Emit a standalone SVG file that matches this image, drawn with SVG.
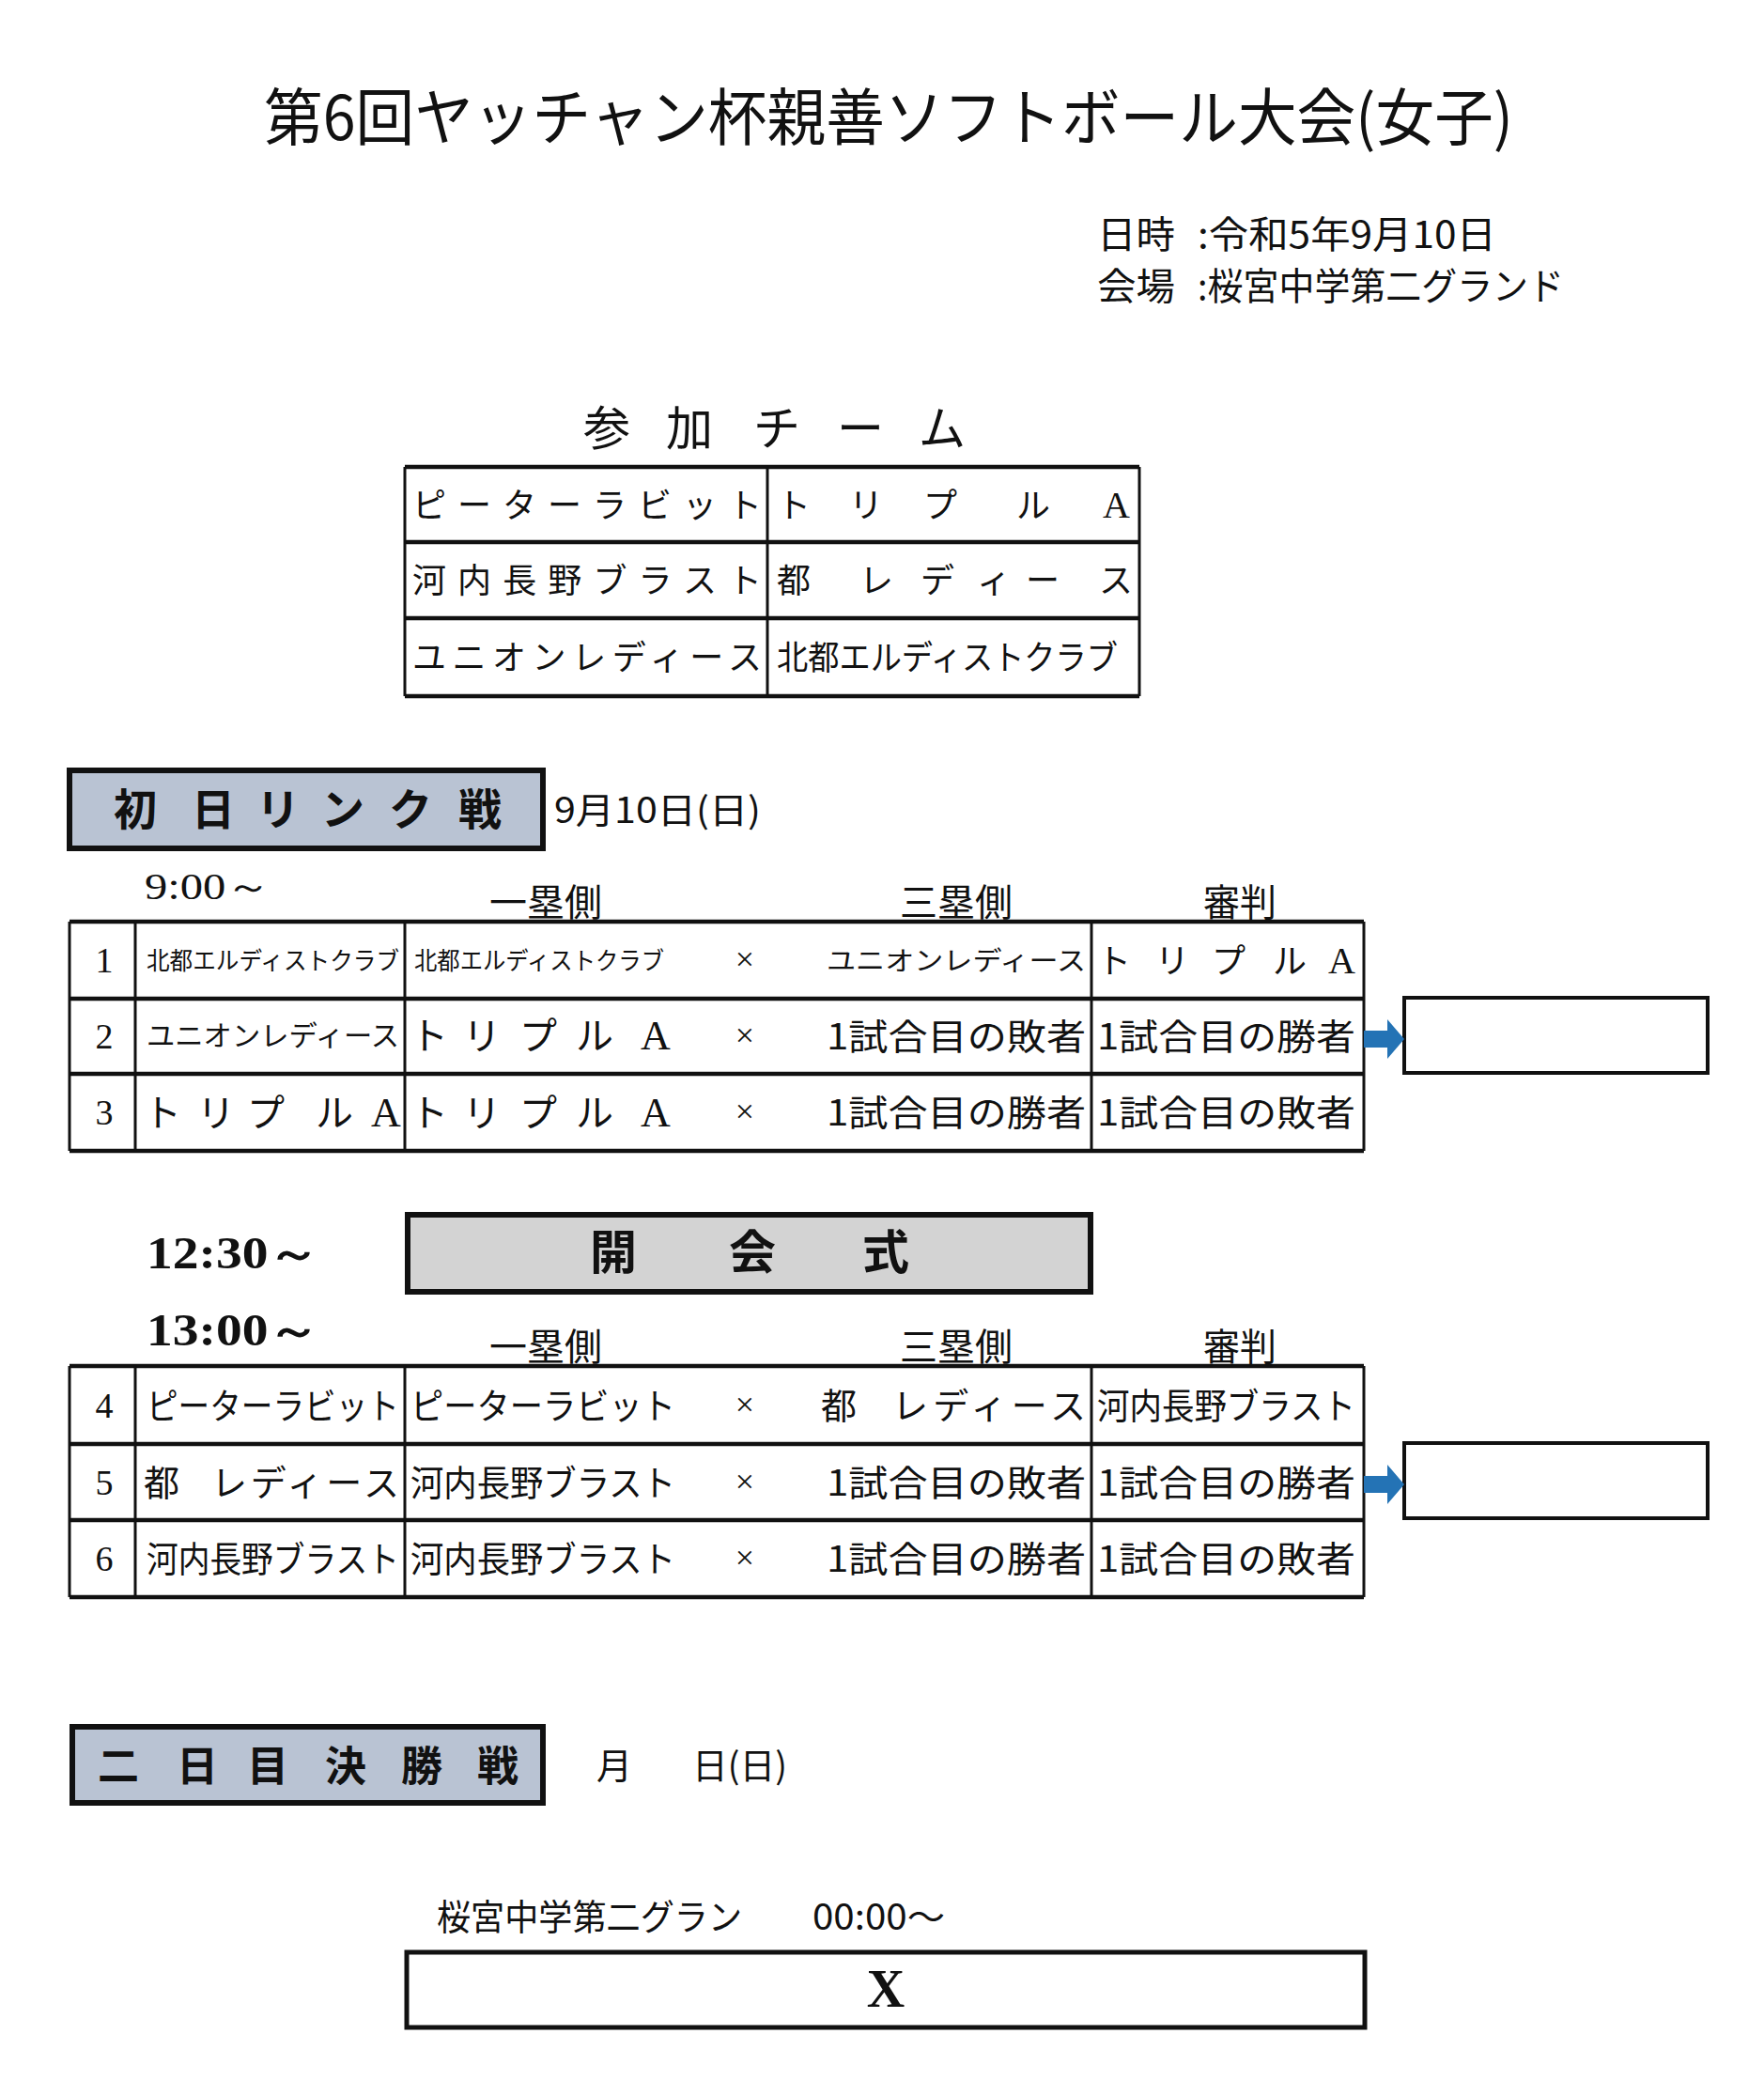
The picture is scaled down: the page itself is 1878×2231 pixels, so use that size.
<svg xmlns="http://www.w3.org/2000/svg" width="1878" height="2231" viewBox="0 0 1878 2231">
<defs>
<style>
.jp{font-family:"Noto Sans CJK JP","Noto Sans CJK SC",sans-serif;fill:#111}
.sf{font-family:"Liberation Serif",serif;fill:#111}
.h{stroke:#111;stroke-width:4.5;fill:none}
.v{stroke:#111;stroke-width:3;fill:none}
.bx{stroke:#111;stroke-width:4;fill:#fff}
.c36{font-size:36px}
.c38{font-size:38px}
.c26{font-size:26px}
.num{font-size:38px;text-anchor:middle}
.x{font-size:36px;text-anchor:middle}
.arrow{fill:#2473b5}
</style>
</defs>
<rect width="1878" height="2231" fill="#fff"/>

<g id="title">
<text class="jp" x="281" y="149" font-size="66" textLength="1330" lengthAdjust="spacingAndGlyphs">第6回ヤッチャン杯親善ソフトボール大会(女子)</text>
</g>

<g id="info">
<text class="jp" x="1168" y="264" font-size="40" textLength="83" lengthAdjust="spacingAndGlyphs">日時</text>
<text class="jp" x="1275" y="264" font-size="40" textLength="318" lengthAdjust="spacingAndGlyphs">:令和5年9月10日</text>
<text class="jp" x="1168" y="319" font-size="40" textLength="83" lengthAdjust="spacingAndGlyphs">会場</text>
<text class="jp" x="1275" y="319" font-size="40" textLength="390" lengthAdjust="spacingAndGlyphs">:桜宮中学第二グランド</text>
</g>

<g id="teams">
<text class="jp" x="621 709 802 891 978" y="474" font-size="50">参加チーム</text>
<line class="h" x1="431" y1="497" x2="1213" y2="497"/>
<line class="h" x1="431" y1="577" x2="1213" y2="577"/>
<line class="h" x1="431" y1="658" x2="1213" y2="658"/>
<line class="h" x1="431" y1="741" x2="1213" y2="741"/>
<line class="v" x1="431" y1="497" x2="431" y2="741"/>
<line class="v" x1="817" y1="497" x2="817" y2="741"/>
<line class="v" x1="1213" y1="497" x2="1213" y2="741"/>
<text class="jp c36" x="439" y="551" textLength="372" lengthAdjust="spacing">ピーターラビット</text>
<text class="jp c36" x="827 904 983 1082" y="551">トリプル</text>
<text class="sf" x="1174" y="551" font-size="40">A</text>
<text class="jp c36" x="439" y="631" textLength="372" lengthAdjust="spacing">河内長野ブラスト</text>
<text class="jp c36" x="827 915 980 1040 1092 1170" y="631">都レディース</text>
<text class="jp c36" x="439" y="713" textLength="372" lengthAdjust="spacing">ユニオンレディース</text>
<text class="jp c36" x="827" y="713" textLength="363" lengthAdjust="spacingAndGlyphs">北都エルディストクラブ</text>
</g>

<g id="day1-header">
<rect x="74" y="820" width="504" height="83" fill="#b9c3d3" stroke="#111" stroke-width="6"/>
<text class="jp" x="121 204 273 342 414 488" y="878" font-size="46" font-weight="bold">初日リンク戦</text>
<text class="jp" x="590" y="876" font-size="38" textLength="220" lengthAdjust="spacingAndGlyphs">9月10日(日)</text>
</g>

<g id="day1-table">
<text class="sf" x="154" y="957" font-size="40" textLength="135" lengthAdjust="spacingAndGlyphs">9:00～</text>
<text class="jp" x="521" y="975" font-size="40" textLength="120" lengthAdjust="spacingAndGlyphs">一塁側</text>
<text class="jp" x="958" y="975" font-size="40" textLength="120" lengthAdjust="spacingAndGlyphs">三塁側</text>
<text class="jp" x="1281" y="975" font-size="40" textLength="78" lengthAdjust="spacingAndGlyphs">審判</text>
<line class="h" x1="74" y1="981" x2="1452" y2="981"/>
<line class="h" x1="74" y1="1063" x2="1452" y2="1063"/>
<line class="h" x1="74" y1="1143" x2="1452" y2="1143"/>
<line class="h" x1="74" y1="1225" x2="1452" y2="1225"/>
<line class="v" x1="74" y1="981" x2="74" y2="1225"/>
<line class="v" x1="144" y1="981" x2="144" y2="1225"/>
<line class="v" x1="431" y1="981" x2="431" y2="1225"/>
<line class="v" x1="1162" y1="981" x2="1162" y2="1225"/>
<line class="v" x1="1452" y1="981" x2="1452" y2="1225"/>

<text class="sf num" x="111" y="1035">1</text>
<text class="jp c26" x="156" y="1032" textLength="269" lengthAdjust="spacingAndGlyphs">北都エルディストクラブ</text>
<text class="jp c26" x="441" y="1032" textLength="266" lengthAdjust="spacingAndGlyphs">北都エルディストクラブ</text>
<text class="sf x" x="793" y="1033">×</text>
<text class="jp" x="880" y="1033" font-size="28" textLength="276" lengthAdjust="spacingAndGlyphs">ユニオンレディース</text>
<text class="jp c36" x="1168 1230 1290 1355" y="1036">トリプル</text>
<text class="sf" x="1414" y="1036" font-size="40">A</text>

<text class="sf num" x="111" y="1116">2</text>
<text class="jp" x="156" y="1113" font-size="30" textLength="269" lengthAdjust="spacingAndGlyphs">ユニオンレディース</text>
<text class="jp" x="437 493 553 613" y="1117" font-size="40">トリプル</text>
<text class="sf" x="682" y="1117" font-size="44">A</text>
<text class="sf x" x="793" y="1114">×</text>
<text class="jp c38" x="880" y="1117" textLength="276" lengthAdjust="spacingAndGlyphs">1試合目の敗者</text>
<text class="jp c38" x="1168" y="1117" textLength="275" lengthAdjust="spacingAndGlyphs">1試合目の勝者</text>

<text class="sf num" x="111" y="1197">3</text>
<text class="jp" x="153 210 263 336" y="1199" font-size="40">トリプル</text>
<text class="sf" x="395" y="1199" font-size="44">A</text>
<text class="jp" x="437 493 553 613" y="1199" font-size="40">トリプル</text>
<text class="sf" x="682" y="1199" font-size="44">A</text>
<text class="sf x" x="793" y="1195">×</text>
<text class="jp c38" x="880" y="1198" textLength="276" lengthAdjust="spacingAndGlyphs">1試合目の勝者</text>
<text class="jp c38" x="1168" y="1198" textLength="275" lengthAdjust="spacingAndGlyphs">1試合目の敗者</text>
</g>

<g id="result-box-1">
<rect class="bx" x="1495" y="1062" width="323" height="80"/>
</g>

<g id="opening">
<text class="sf" x="156" y="1350" font-size="48" font-weight="bold" textLength="185" lengthAdjust="spacingAndGlyphs">12:30～</text>
<rect x="434" y="1293" width="727" height="82" fill="#d3d3d3" stroke="#111" stroke-width="6"/>
<text class="jp" x="628 776 918" y="1351" font-size="50" font-weight="bold">開会式</text>
</g>

<g id="day1-table-2">
<text class="sf" x="156" y="1432" font-size="48" font-weight="bold" textLength="185" lengthAdjust="spacingAndGlyphs">13:00～</text>
<text class="jp" x="521" y="1448" font-size="40" textLength="120" lengthAdjust="spacingAndGlyphs">一塁側</text>
<text class="jp" x="958" y="1448" font-size="40" textLength="120" lengthAdjust="spacingAndGlyphs">三塁側</text>
<text class="jp" x="1281" y="1448" font-size="40" textLength="78" lengthAdjust="spacingAndGlyphs">審判</text>
<line class="h" x1="74" y1="1454" x2="1452" y2="1454"/>
<line class="h" x1="74" y1="1537" x2="1452" y2="1537"/>
<line class="h" x1="74" y1="1618" x2="1452" y2="1618"/>
<line class="h" x1="74" y1="1700" x2="1452" y2="1700"/>
<line class="v" x1="74" y1="1454" x2="74" y2="1700"/>
<line class="v" x1="144" y1="1454" x2="144" y2="1700"/>
<line class="v" x1="431" y1="1454" x2="431" y2="1700"/>
<line class="v" x1="1162" y1="1454" x2="1162" y2="1700"/>
<line class="v" x1="1452" y1="1454" x2="1452" y2="1700"/>

<text class="sf num" x="111" y="1509">4</text>
<text class="jp c38" x="156" y="1510" textLength="269" lengthAdjust="spacingAndGlyphs">ピーターラビット</text>
<text class="jp c38" x="437" y="1510" textLength="282" lengthAdjust="spacingAndGlyphs">ピーターラビット</text>
<text class="sf x" x="793" y="1507">×</text>
<text class="jp c38" x="874" y="1510">都</text>
<text class="jp c38" x="950" y="1510" textLength="206" lengthAdjust="spacing">レディース</text>
<text class="jp c38" x="1168" y="1510" textLength="275" lengthAdjust="spacingAndGlyphs">河内長野ブラスト</text>

<text class="sf num" x="111" y="1591">5</text>
<text class="jp c38" x="153" y="1592">都</text>
<text class="jp c38" x="225" y="1592" textLength="200" lengthAdjust="spacing">レディース</text>
<text class="jp c38" x="437" y="1592" textLength="282" lengthAdjust="spacingAndGlyphs">河内長野ブラスト</text>
<text class="sf x" x="793" y="1589">×</text>
<text class="jp c38" x="880" y="1592" textLength="276" lengthAdjust="spacingAndGlyphs">1試合目の敗者</text>
<text class="jp c38" x="1168" y="1592" textLength="275" lengthAdjust="spacingAndGlyphs">1試合目の勝者</text>

<text class="sf num" x="111" y="1672">6</text>
<text class="jp c38" x="156" y="1673" textLength="269" lengthAdjust="spacingAndGlyphs">河内長野ブラスト</text>
<text class="jp c38" x="437" y="1673" textLength="282" lengthAdjust="spacingAndGlyphs">河内長野ブラスト</text>
<text class="sf x" x="793" y="1670">×</text>
<text class="jp c38" x="880" y="1673" textLength="276" lengthAdjust="spacingAndGlyphs">1試合目の勝者</text>
<text class="jp c38" x="1168" y="1673" textLength="275" lengthAdjust="spacingAndGlyphs">1試合目の敗者</text>
</g>

<g id="result-box-2">
<rect class="bx" x="1495" y="1536" width="323" height="80"/>
</g>

<g id="connectors">
<polygon class="arrow" points="1452,1097 1477,1097 1477,1085 1495,1106 1477,1127 1477,1115 1452,1115"/>
<polygon class="arrow" points="1452,1571 1477,1571 1477,1559 1495,1580 1477,1601 1477,1589 1452,1589"/>
</g>

<g id="day2-header">
<rect x="77" y="1838" width="501" height="81" fill="#b9c3d3" stroke="#111" stroke-width="6"/>
<text class="jp" x="104 188 263 346 427 508" y="1896" font-size="44" font-weight="bold">二日目決勝戦</text>
<text class="jp c38" x="635" y="1893">月</text>
<text class="jp c38" x="737" y="1893" textLength="101" lengthAdjust="spacingAndGlyphs">日(日)</text>
</g>

<g id="final">
<text class="jp c38" x="465" y="2054" textLength="325" lengthAdjust="spacingAndGlyphs">桜宮中学第二グラン</text>
<text class="jp c38" x="865" y="2054" textLength="141" lengthAdjust="spacingAndGlyphs">00:00～</text>
<rect x="433" y="2078" width="1020" height="80" fill="#fff" stroke="#111" stroke-width="5"/>
<text class="sf" x="943" y="2136" font-size="56" font-weight="bold" text-anchor="middle">X</text>
</g>
</svg>
